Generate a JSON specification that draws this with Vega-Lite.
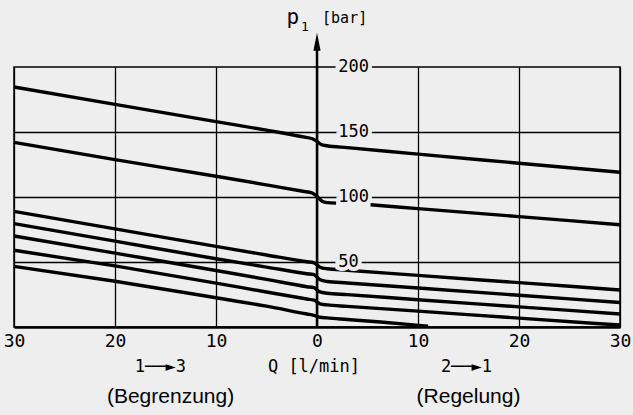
{
  "$schema": "https://vega.github.io/schema/vega-lite/v6.json",
  "width": 606,
  "height": 260,
  "autosize": {"type": "none"},
  "padding": {"left": 14, "top": 67, "right": 13, "bottom": 88},
  "background": "#edeeed",
  "config": {
    "view": {"stroke": "#000", "strokeWidth": 1.5},
    "text": {"color": "#000"}
  },
  "layer": [
    {
      "data": {"values": [
        {"s": "1", "q": -30, "p": 184.6}, {"s": "1", "q": -20, "p": 171.2}, {"s": "1", "q": -10, "p": 158}, {"s": "1", "q": -5, "p": 151.4}, {"s": "1", "q": -1.2, "p": 146}, {"s": "1", "q": -0.4, "p": 144.6}, {"s": "1", "q": 0, "p": 142.8}, {"s": "1", "q": 0.4, "p": 140.4}, {"s": "1", "q": 1, "p": 139.4}, {"s": "1", "q": 3, "p": 138}, {"s": "1", "q": 10, "p": 133}, {"s": "1", "q": 20, "p": 126}, {"s": "1", "q": 30, "p": 119},
        {"s": "2a", "q": -30, "p": 142}, {"s": "2a", "q": -20, "p": 128.7}, {"s": "2a", "q": -10, "p": 116}, {"s": "2a", "q": -5, "p": 109.3}, {"s": "2a", "q": -1.4, "p": 104.4}, {"s": "2a", "q": -0.5, "p": 103.2}, {"s": "2a", "q": 0, "p": 100.6}, {"s": "2a", "q": 0.5, "p": 96.8}, {"s": "2a", "q": 1, "p": 95.7}, {"s": "2a", "q": 1.9, "p": 95.3},
        {"s": "2b", "q": 5.3, "p": 94}, {"s": "2b", "q": 10, "p": 91.1}, {"s": "2b", "q": 20, "p": 84.9}, {"s": "2b", "q": 30, "p": 78.7},
        {"s": "a", "q": -30, "p": 89}, {"s": "a", "q": -20, "p": 75.5}, {"s": "a", "q": -10, "p": 62}, {"s": "a", "q": -5, "p": 55.4}, {"s": "a", "q": -1, "p": 50.2}, {"s": "a", "q": -0.3, "p": 49.4}, {"s": "a", "q": 0, "p": 47.8}, {"s": "a", "q": 0.3, "p": 46}, {"s": "a", "q": 1, "p": 44.8}, {"s": "a", "q": 3, "p": 43.7}, {"s": "a", "q": 10, "p": 39.7}, {"s": "a", "q": 20, "p": 34.1}, {"s": "a", "q": 30, "p": 28.5},
        {"s": "b", "q": -30, "p": 79.5}, {"s": "b", "q": -20, "p": 66}, {"s": "b", "q": -10, "p": 52.5}, {"s": "b", "q": -5, "p": 46.1}, {"s": "b", "q": -1, "p": 41}, {"s": "b", "q": -0.3, "p": 40.2}, {"s": "b", "q": 0, "p": 38.5}, {"s": "b", "q": 0.3, "p": 36.3}, {"s": "b", "q": 1, "p": 35}, {"s": "b", "q": 3, "p": 33.9}, {"s": "b", "q": 10, "p": 30}, {"s": "b", "q": 20, "p": 24.4}, {"s": "b", "q": 30, "p": 18.8},
        {"s": "c", "q": -30, "p": 70}, {"s": "c", "q": -20, "p": 56.8}, {"s": "c", "q": -10, "p": 43.5}, {"s": "c", "q": -5, "p": 36.6}, {"s": "c", "q": -1, "p": 31}, {"s": "c", "q": -0.3, "p": 30.2}, {"s": "c", "q": 0, "p": 28.5}, {"s": "c", "q": 0.3, "p": 27}, {"s": "c", "q": 1, "p": 26}, {"s": "c", "q": 3, "p": 24.9}, {"s": "c", "q": 10, "p": 21}, {"s": "c", "q": 20, "p": 15.5}, {"s": "c", "q": 30, "p": 10},
        {"s": "d", "q": -30, "p": 59}, {"s": "d", "q": -20, "p": 47}, {"s": "d", "q": -10, "p": 33.8}, {"s": "d", "q": -5, "p": 26.9}, {"s": "d", "q": -1, "p": 21.5}, {"s": "d", "q": -0.3, "p": 20.6}, {"s": "d", "q": 0, "p": 19.2}, {"s": "d", "q": 0.3, "p": 17.8}, {"s": "d", "q": 1, "p": 17}, {"s": "d", "q": 3, "p": 15.9}, {"s": "d", "q": 10, "p": 12.2}, {"s": "d", "q": 20, "p": 6.8}, {"s": "d", "q": 30, "p": 1.5},
        {"s": "e", "q": -30, "p": 46.6}, {"s": "e", "q": -20, "p": 35.2}, {"s": "e", "q": -10, "p": 22.5}, {"s": "e", "q": -5, "p": 16}, {"s": "e", "q": -1, "p": 10}, {"s": "e", "q": -0.3, "p": 9}, {"s": "e", "q": 0, "p": 8.2}, {"s": "e", "q": 0.3, "p": 7.5}, {"s": "e", "q": 1, "p": 7}, {"s": "e", "q": 3, "p": 5.8}, {"s": "e", "q": 6.3, "p": 3.8}, {"s": "e", "q": 11, "p": 0.6}
      ]},
      "mark": {"type": "line", "color": "#000", "strokeWidth": 3.4, "interpolate": "monotone", "clip": false},
      "encoding": {
        "x": {"field": "q", "type": "quantitative",
          "scale": {"domain": [-30, 30], "nice": false, "zero": false},
          "axis": {"values": [-30, -20, -10, 0, 10, 20, 30], "labelExpr": "abs(datum.value)",
            "grid": true, "gridColor": "#000", "gridWidth": 1.3, "gridOpacity": 1,
            "ticks": false, "domain": true, "domainColor": "#000", "domainWidth": 2.5,
            "labelFont": "DejaVu Sans Mono", "labelFontSize": 18, "labelColor": "#000",
            "labelPadding": 5, "labelFlush": false, "labelOverlap": false, "title": null}},
        "y": {"field": "p", "type": "quantitative",
          "scale": {"domain": [0, 200], "nice": false},
          "axis": {"values": [50, 100, 150], "grid": true, "gridColor": "#000", "gridWidth": 1.3, "gridOpacity": 1,
            "labels": false, "ticks": false, "domain": false, "title": null}},
        "detail": {"field": "s"}
      }
    },
    {
      "data": {"values": [{}]},
      "mark": {"type": "rule", "color": "#000", "strokeWidth": 2.5, "clip": false},
      "encoding": {
        "x": {"datum": 0, "type": "quantitative"},
        "y": {"datum": 0, "type": "quantitative"},
        "y2": {"datum": 219}
      }
    },
    {
      "data": {"values": [{}]},
      "mark": {"type": "point", "shape": "M0,-1L0.4,1L-0.4,1Z", "size": 324, "filled": true, "color": "#000", "opacity": 1, "clip": false},
      "encoding": {
        "x": {"datum": 0, "type": "quantitative"},
        "y": {"datum": 219.5, "type": "quantitative"}
      }
    },
    {
      "data": {"values": [{"v": 50}, {"v": 100}, {"v": 150}, {"v": 200}]},
      "layer": [
        {
          "mark": {"type": "text", "align": "left", "baseline": "middle", "font": "DejaVu Sans Mono", "fontSize": 17, "fill": "#edeeed", "stroke": "#edeeed", "strokeWidth": 8, "clip": false},
          "encoding": {
            "x": {"datum": 2.1, "type": "quantitative"},
            "y": {"field": "v", "type": "quantitative"},
            "text": {"field": "v"}
          }
        },
        {
          "mark": {"type": "text", "align": "left", "baseline": "middle", "font": "DejaVu Sans Mono", "fontSize": 17, "fill": "#000", "clip": false},
          "encoding": {
            "x": {"datum": 2.1, "type": "quantitative"},
            "y": {"field": "v", "type": "quantitative"},
            "text": {"field": "v"}
          }
        }
      ]
    },
    {
      "data": {"values": [{}]},
      "layer": [
        {"mark": {"type": "text", "text": "p", "align": "center", "baseline": "alphabetic", "font": "DejaVu Sans Mono", "fontSize": 21, "clip": false},
         "encoding": {"x": {"datum": -2.4, "type": "quantitative"}, "y": {"datum": 233, "type": "quantitative"}}},
        {"mark": {"type": "text", "text": "1", "align": "center", "baseline": "alphabetic", "font": "DejaVu Sans Mono", "fontSize": 13, "clip": false},
         "encoding": {"x": {"datum": -1.2, "type": "quantitative"}, "y": {"datum": 228, "type": "quantitative"}}},
        {"mark": {"type": "text", "text": "[bar]", "align": "left", "baseline": "alphabetic", "font": "DejaVu Sans Mono", "fontSize": 15, "clip": false},
         "encoding": {"x": {"datum": 0.5, "type": "quantitative"}, "y": {"datum": 234, "type": "quantitative"}}},
        {"mark": {"type": "text", "text": "1──►3", "align": "center", "baseline": "alphabetic", "font": "DejaVu Sans Mono", "fontSize": 17, "clip": false},
         "encoding": {"x": {"datum": -15.5, "type": "quantitative"}, "y": {"datum": -34.6, "type": "quantitative"}}},
        {"mark": {"type": "text", "text": "Q [l/min]", "align": "center", "baseline": "alphabetic", "font": "DejaVu Sans Mono", "fontSize": 17, "clip": false},
         "encoding": {"x": {"datum": -0.3, "type": "quantitative"}, "y": {"datum": -34.6, "type": "quantitative"}}},
        {"mark": {"type": "text", "text": "2──►1", "align": "center", "baseline": "alphabetic", "font": "DejaVu Sans Mono", "fontSize": 17, "clip": false},
         "encoding": {"x": {"datum": 14.8, "type": "quantitative"}, "y": {"datum": -34.6, "type": "quantitative"}}},
        {"mark": {"type": "text", "text": "(Begrenzung)", "align": "center", "baseline": "alphabetic", "font": "Liberation Sans", "fontSize": 21, "clip": false},
         "encoding": {"x": {"datum": -14.5, "type": "quantitative"}, "y": {"datum": -58.5, "type": "quantitative"}}},
        {"mark": {"type": "text", "text": "(Regelung)", "align": "center", "baseline": "alphabetic", "font": "Liberation Sans", "fontSize": 21, "clip": false},
         "encoding": {"x": {"datum": 15, "type": "quantitative"}, "y": {"datum": -58.5, "type": "quantitative"}}}
      ]
    }
  ]
}
